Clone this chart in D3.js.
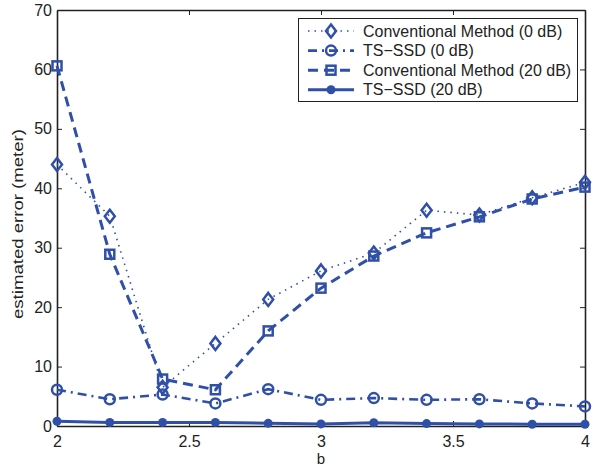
<!DOCTYPE html>
<html>
<head>
<meta charset="utf-8">
<script src="https://cdn.jsdelivr.net/npm/d3@7"></script>
<style>
  html, body { margin: 0; padding: 0; background: #fff; }
  svg { display: block; font-family: "Liberation Sans", Arial, Helvetica, sans-serif; }
</style>
</head>
<body>
<svg id="chart" width="596" height="466"></svg>
<script>
// Parameter b on the horizontal axis
const bValues = [2.0, 2.2, 2.4, 2.6, 2.8, 3.0, 3.2, 3.4, 3.6, 3.8, 4.0];

// Estimated error (meter) for each method / SNR
const convention0dB  = [44.0, 35.3, 6.5, 13.9, 21.3, 26.1, 29.1, 36.3, 35.5, 38.4, 41.0];
const tsSsd0dB       = [6.1, 4.5, 5.3, 3.8, 6.2, 4.4, 4.7, 4.4, 4.5, 3.8, 3.3];
const convention20dB = [60.6, 28.9, 7.9, 6.1, 16.0, 23.2, 28.6, 32.5, 35.2, 38.2, 40.2];
const tsSsd20dB      = [0.8, 0.6, 0.6, 0.6, 0.45, 0.35, 0.55, 0.4, 0.35, 0.3, 0.3];

const seriesNames = ["Conventional Method (0 dB)", "TS\u2212SSD (0 dB)",
                     "Conventional Method (20 dB)", "TS\u2212SSD (20 dB)"];
const xTicks = [2, 2.5, 3, 3.5, 4];
const yTicks = [0, 10, 20, 30, 40, 50, 60, 70];

const color = "#3050a8";
const svg = d3.select("#chart");
const margin = { left: 57, top: 10, right: 11, bottom: 40 };
const W = 596, H = 466;
const x = d3.scaleLinear().domain([2, 4]).range([margin.left, W - margin.right]);
const y = d3.scaleLinear().domain([0, 70]).range([H - margin.bottom, margin.top]);

const series = [
  { name: seriesNames[0], values: convention0dB,  dash: "1.5,5",      width: 1.6, marker: "diamond" },
  { name: seriesNames[1], values: tsSsd0dB,       dash: "9,5,2,5",    width: 2.6, marker: "circle" },
  { name: seriesNames[2], values: convention20dB, dash: "10,6",       width: 3,   marker: "square" },
  { name: seriesNames[3], values: tsSsd20dB,      dash: null,         width: 3,   marker: "dot" }
];

// Axes box with inward ticks on all sides
const axisColor = "#222";
const g = svg.append("g");
const tickLen = 5;
const xAxisB = d3.axisBottom(x).tickValues(xTicks).tickSizeInner(-tickLen).tickSizeOuter(0).tickPadding(10).tickFormat(d3.format("~g"));
const xAxisT = d3.axisTop(x).tickValues(xTicks).tickSizeInner(-tickLen).tickSizeOuter(0).tickFormat("");
const yAxisL = d3.axisLeft(y).tickValues(yTicks).tickSizeInner(-tickLen).tickSizeOuter(0).tickPadding(5);
const yAxisR = d3.axisRight(y).tickValues(yTicks).tickSizeInner(-tickLen).tickSizeOuter(0).tickFormat("");

function style(sel) {
  sel.selectAll("path").attr("stroke", axisColor).attr("stroke-width", 1.6);
  sel.selectAll("line").attr("stroke", axisColor).attr("stroke-width", 1);
  sel.selectAll("text").attr("fill", "#222").style("font-size", "16px");
}
g.append("g").attr("transform", `translate(0,${y(0)})`).call(xAxisB).call(style);
g.append("g").attr("transform", `translate(0,${y(70)})`).call(xAxisT).call(style);
g.append("g").attr("transform", `translate(${x(2)},0)`).call(yAxisL).call(style);
g.append("g").attr("transform", `translate(${x(4)},0)`).call(yAxisR).call(style);

// Axis titles
svg.append("text").attr("x", x(3)).attr("y", 464).attr("text-anchor", "middle")
  .style("font-size", "15px").attr("fill", "#222").text("b");
svg.append("text").attr("transform", `translate(23,224) rotate(-90)`)
  .attr("text-anchor", "middle").style("font-size", "14px").attr("fill", "#222")
  .attr("textLength", 190).attr("lengthAdjust", "spacingAndGlyphs")
  .text("estimated error (meter)");

// Markers
function drawMarker(sel, kind, cx, cy) {
  if (kind === "diamond") {
    sel.append("path").attr("d", `M${cx},${cy - 6.5}L${cx + 5},${cy}L${cx},${cy + 6.5}L${cx - 5},${cy}Z`)
      .attr("fill", "none").attr("stroke", color).attr("stroke-width", 2.5);
  } else if (kind === "circle") {
    sel.append("circle").attr("cx", cx).attr("cy", cy).attr("r", 5)
      .attr("fill", "none").attr("stroke", color).attr("stroke-width", 2.5);
  } else if (kind === "square") {
    sel.append("rect").attr("x", cx - 4.5).attr("y", cy - 4.5).attr("width", 9).attr("height", 9)
      .attr("fill", "none").attr("stroke", color).attr("stroke-width", 2.5);
  } else {
    sel.append("circle").attr("cx", cx).attr("cy", cy).attr("r", 4.5).attr("fill", color);
  }
}

const line = d3.line().x((d, i) => x(bValues[i])).y(d => y(d));
const plot = svg.append("g");
series.forEach(s => {
  const p = plot.append("path").datum(s.values).attr("d", line)
    .attr("fill", "none").attr("stroke", color).attr("stroke-width", s.width);
  if (s.dash) p.attr("stroke-dasharray", s.dash);
  s.values.forEach((v, i) => drawMarker(plot, s.marker, x(bValues[i]), y(v)));
});

// Legend
const lg = svg.append("g");
lg.append("rect").attr("x", 298.5).attr("y", 18.5).attr("width", 279).attr("height", 83)
  .attr("fill", "#fff").attr("stroke", axisColor).attr("stroke-width", 1);
series.forEach((s, i) => {
  const ly = 31 + i * 19.6;
  const l = lg.append("line").attr("x1", 308).attr("x2", 354).attr("y1", ly).attr("y2", ly)
    .attr("stroke", color).attr("stroke-width", s.width);
  if (s.dash) l.attr("stroke-dasharray", s.dash);
  drawMarker(lg, s.marker, 331, ly);
  lg.append("text").attr("x", 363).attr("y", ly + 5.5).style("font-size", "16px")
    .attr("fill", "#222").text(s.name);
});
</script>
</body>
</html>
